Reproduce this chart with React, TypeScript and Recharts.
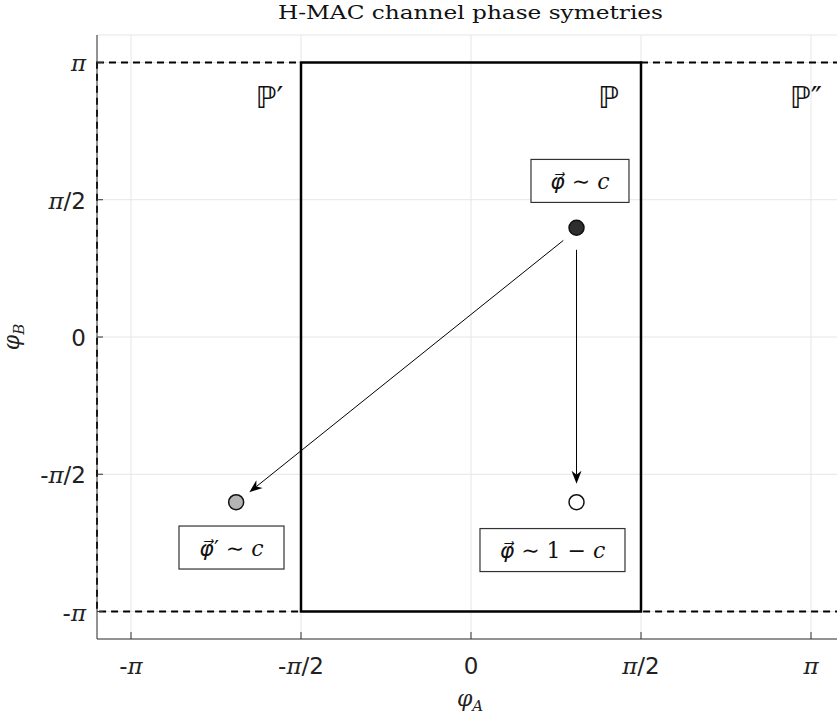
import React from 'react';
import {
  ScatterChart,
  Scatter,
  XAxis,
  YAxis,
  CartesianGrid,
  ReferenceArea,
  ReferenceLine,
  ReferenceDot,
} from 'recharts';

const PI = Math.PI;
const AXIS_LIMIT = 1.1 * PI;
const tickValues = [-PI, -PI / 2, 0, PI / 2, PI];
const tickLabels = ['-π', '-π/2', '0', 'π/2', 'π'];

// phase regions: x range is φA, y range is φB
const regionNames = ['ℙ′', 'ℙ', 'ℙ″'];
const regionX = [
  [-1.5 * PI, -0.5 * PI],
  [-0.5 * PI, 0.5 * PI],
  [0.5 * PI, 1.5 * PI],
];
const regionY = [-PI, PI];
const regionLabelX = [-1.862, 1.27, 3.095];
const regionLabelY = 2.747;

const phiPoint = [{ x: 0.975, y: 1.25 }];
const phiPrimePoint = [{ x: -2.17, y: -1.89 }];
const phiMirrorPoint = [{ x: 0.975, y: -1.89 }];

const arrowSegments = [
  [{ x: 0.853, y: 1.105 }, { x: -2.048, y: -1.776 }],
  [{ x: 0.975, y: 0.998 }, { x: 0.975, y: -1.68 }],
];

const boxTexts = ['φ⃗ ∼ c', 'φ⃗′ ∼ c', 'φ⃗ ∼ 1 − c'];
const boxX = [1.007, -2.213, 0.753];
const boxY = [1.786, -2.409, -2.438];

const BOX_WIDTHS = [98, 105, 145];
const SANS = 'DejaVu Sans';
const SERIF = 'DejaVu Serif';
const MATH_FONT = "'DejaVu Serif', 'DejaVu Sans', serif";

function labelFor(value: number) {
  const i = tickValues.findIndex((v) => Math.abs(v - value) < 1e-6);
  return i >= 0 ? tickLabels[i] : '';
}

function MixedText({ label, ...rest }: any) {
  const parts = label.split(/(π)/).filter(Boolean);
  return (
    <text fontSize={23} fill="#222" {...rest}>
      {parts.map((p: string, i: number) =>
        p === 'π' ? (
          <tspan key={i} fontFamily={SERIF} fontStyle="italic">π</tspan>
        ) : (
          <tspan key={i} fontFamily={SANS}>{p}</tspan>
        )
      )}
    </text>
  );
}

// math-like text: φ⃗ and c italic, operators and digits upright
function MathText({ label, ...rest }: any) {
  const parts = label.split(/(φ⃗|c)/).filter(Boolean);
  return (
    <text fontFamily={MATH_FONT} fontSize={22} fill="#111" {...rest}>
      {parts.map((p: string, i: number) => (
        <tspan key={i} fontStyle={p === 'φ⃗' || p === 'c' ? 'italic' : 'normal'}>
          {p}
        </tspan>
      ))}
    </text>
  );
}

const XTick = (props: any) => {
  const { x, y, payload } = props;
  return (
    <g>
      <line x1={x} y1={y} x2={x} y2={y - 7} stroke="#333" strokeWidth={1} />
      <MixedText label={labelFor(payload.value)} x={x} y={y + 35} textAnchor="middle" />
    </g>
  );
};

const YTick = (props: any) => {
  const { x, y, payload } = props;
  return (
    <g>
      <line x1={x} y1={y} x2={x + 6} y2={y} stroke="#333" strokeWidth={1} />
      <MixedText label={labelFor(payload.value)} x={x - 11} y={y + 9} textAnchor="end" />
    </g>
  );
};

const Arrow = (props: any) => {
  const { x1, y1, x2, y2 } = props;
  const len = Math.hypot(x2 - x1, y2 - y1);
  const ux = (x2 - x1) / len;
  const uy = (y2 - y1) / len;
  const nx = -uy;
  const ny = ux;
  const L = 13;
  const W = 5;
  const bx = x2 - L * ux;
  const by = y2 - L * uy;
  const mx = x2 - (L - 4) * ux;
  const my = y2 - (L - 4) * uy;
  return (
    <g>
      <line x1={x1} y1={y1} x2={mx} y2={my} stroke="#000" strokeWidth={1} />
      <path
        d={`M${x2},${y2} L${bx + W * nx},${by + W * ny} L${mx},${my} L${bx - W * nx},${by - W * ny} Z`}
        fill="#000"
      />
    </g>
  );
};

const dot = (fill: string) => (p: any) => (
  <circle cx={p.cx} cy={p.cy} r={7.5} fill={fill} stroke="#111" strokeWidth={1.5} />
);

export default function App() {
  const regionOrder = [0, 2, 1]; // dashed neighbours first, solid region on top
  return (
    <div
      style={{
        position: 'absolute',
        left: 0,
        top: 0,
        width: 837,
        height: 718,
        overflow: 'hidden',
        background: '#fff',
      }}
    >
      <ScatterChart width={845} height={718} margin={{ top: 35, right: 0, bottom: 0, left: 0 }}>
        <CartesianGrid stroke="#e6e6e6" />
        <XAxis
          type="number"
          dataKey="x"
          domain={[-AXIS_LIMIT, AXIS_LIMIT]}
          ticks={tickValues}
          interval={0}
          allowDataOverflow
          height={79}
          tickLine={false}
          tickSize={0}
          tickMargin={0}
          tick={XTick}
          axisLine={{ stroke: '#333' }}
          label={{
            content: (p: any) => {
              const vb = p.viewBox;
              return (
                <text x={vb.x + 373} y={vb.y + 67} fontFamily={SERIF} fontStyle="italic" fontSize={22} fill="#222" textAnchor="middle">
                  φ<tspan fontSize={15} dy={5}>A</tspan>
                </text>
              );
            },
          }}
        />
        <YAxis
          type="number"
          dataKey="y"
          domain={[-AXIS_LIMIT, AXIS_LIMIT]}
          ticks={tickValues}
          interval={0}
          allowDataOverflow
          width={97}
          tickLine={false}
          tickSize={0}
          tickMargin={0}
          tick={YTick}
          axisLine={{ stroke: '#333' }}
          label={{
            content: (p: any) => {
              const vb = p.viewBox;
              const cx = 19;
              const cy = vb.y + vb.height / 2;
              return (
                <text
                  x={cx}
                  y={cy}
                  transform={`rotate(-90 ${cx} ${cy})`}
                  fontFamily={SERIF}
                  fontStyle="italic"
                  fontSize={22}
                  fill="#222"
                  textAnchor="middle"
                >
                  φ<tspan fontSize={15} dy={5}>B</tspan>
                </text>
              );
            },
          }}
        />

        {regionOrder.map((i) => (
          <ReferenceArea
            key={`area-${i}`}
            x1={Math.max(regionX[i][0], -AXIS_LIMIT)}
            x2={Math.min(regionX[i][1], AXIS_LIMIT)}
            y1={regionY[0]}
            y2={regionY[1]}
            fill="none"
            fillOpacity={0}
            stroke="#000"
            strokeWidth={i === 1 ? 2.5 : 2}
            strokeDasharray={i === 1 ? undefined : '7 5'}
            ifOverflow="visible"
          />
        ))}

        {regionNames.map((name, i) => (
          <ReferenceDot
            key={`name-${i}`}
            x={regionLabelX[i]}
            y={regionLabelY}
            ifOverflow="visible"
            shape={(p: any) => (
              <text x={p.cx} y={p.cy + 11} fontFamily={SANS} fontSize={30} fill="#111" textAnchor="middle">
                {name}
              </text>
            )}
          />
        ))}

        {arrowSegments.map((seg, i) => (
          <ReferenceLine key={`arrow-${i}`} segment={seg} shape={Arrow} ifOverflow="visible" />
        ))}

        <Scatter data={phiPoint} isAnimationActive={false} shape={dot('#2e2e2e')} />
        <Scatter data={phiPrimePoint} isAnimationActive={false} shape={dot('#b4b4b4')} />
        <Scatter data={phiMirrorPoint} isAnimationActive={false} shape={dot('#ffffff')} />

        {boxTexts.map((t, i) => (
          <ReferenceDot
            key={`box-${i}`}
            x={boxX[i]}
            y={boxY[i]}
            ifOverflow="visible"
            shape={(p: any) => (
              <g>
                <rect
                  x={p.cx - BOX_WIDTHS[i] / 2}
                  y={p.cy - 21.5}
                  width={BOX_WIDTHS[i]}
                  height={43}
                  fill="#fff"
                  stroke="#333"
                  strokeWidth={1.2}
                />
                <MathText label={t} x={p.cx} y={p.cy + 8} textAnchor="middle" />
              </g>
            )}
          />
        ))}
      </ScatterChart>
      <svg style={{ position: 'absolute', left: 0, top: 0 }} width={837} height={30}>
        <text
          x={470.5}
          y={19}
          textAnchor="middle"
          fontFamily={SERIF}
          fontSize={19}
          fill="#111"
          textLength={385}
          lengthAdjust="spacingAndGlyphs"
        >
          H-MAC channel phase symetries
        </text>
      </svg>
    </div>
  );
}
